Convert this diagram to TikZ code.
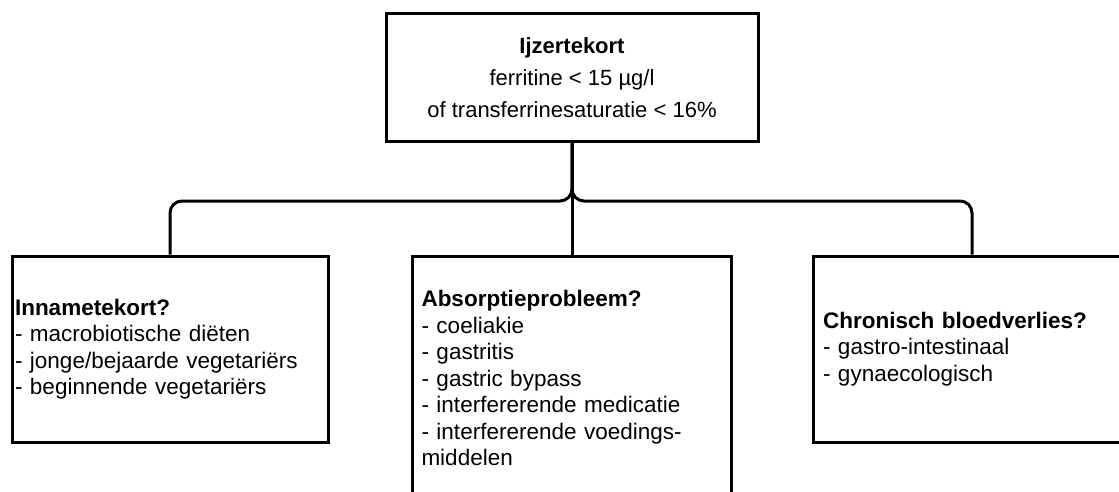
\documentclass[tikz,border=0pt]{standalone}
\usepackage{fontspec}
\setmainfont{Liberation Sans}
\usetikzlibrary{positioning}

\begin{document}
\begin{tikzpicture}[x=1pt,y=-1pt,
        box/.style={draw,line width=3pt,align=left,inner ysep=0pt,
            font=\fontsize{22.5}{26.5}\selectfont},
        conn/.style={line width=3pt,rounded corners=12pt}]
        \useasboundingbox (0,0) rectangle (1119,492);
        \clip (0,0) rectangle (1119,492);

        % Draw the top box
        \node[box,align=center,minimum width=372pt,minimum height=128pt,
            font=\fontsize{22}{32}\selectfont] (ijzer) at (572,78)
            {\textbf{Ijzertekort}\\ferritine < 15 µg/l\\of transferrinesaturatie < 16\%};

        % Draw the three cause boxes
        \node[box,text width=310pt,inner xsep=3pt,minimum height=186pt] (inname) at (170,349)
            {\textbf{Innametekort?}\\- macrobiotische diëten\\- jonge/bejaarde vegetariërs\\- beginnende vegetariërs};
        \node[box,text width=301pt,inner xsep=9pt,minimum height=244pt] (absorp) at (572,378)
            {\textbf{Absorptieprobleem?}\\- coeliakie\\- gastritis\\- gastric bypass\\- interfererende medicatie\\- interfererende voedings-\\middelen};
        \node[box,text width=298pt,inner xsep=10pt,minimum height=186pt] (bloed) at (972,349)
            {\textbf{Chronisch bloedverlies?}\\- gastro-intestinaal\\- gynaecologisch};

        % Draw the connectors
        \coordinate (bar) at (572,201);
        \draw[conn] (ijzer.south) |- (bar -| inname.north) -- (inname.north);
        \draw[conn] (ijzer.south) |- (bar -| bloed.north) -- (bloed.north);
        \draw[line width=3pt] (ijzer.south) -- (absorp.north);
    \end{tikzpicture}
\end{document}
